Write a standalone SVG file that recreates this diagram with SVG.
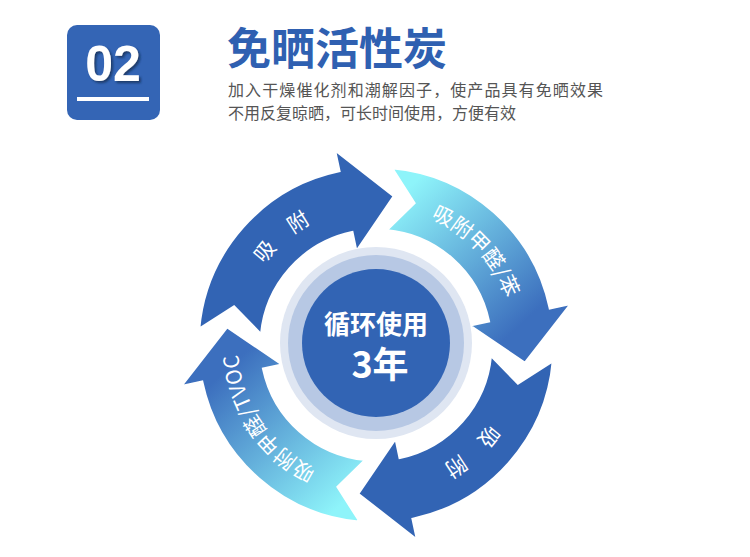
<svg xmlns="http://www.w3.org/2000/svg" xmlns:xlink="http://www.w3.org/1999/xlink" width="750" height="557" viewBox="0 0 750 557">
<style>
.cjk{font-family:"Noto Sans CJK SC","Liberation Sans",sans-serif}
.dark{fill:#3264b4;stroke:#fff;stroke-width:3}
.light{fill:url(#lg);stroke:#fff;stroke-width:3}
.rt{fill:#fff;font-size:21px}
</style>
<defs>
<linearGradient id="lg" gradientUnits="userSpaceOnUse" x1="230" y1="325" x2="360" y2="205">
<stop offset="0" stop-color="#8ef4fa"/><stop offset="1" stop-color="#3c6fbe"/>
</linearGradient>
<filter id="sh" x="-20%" y="-20%" width="140%" height="140%"><feDropShadow dx="2" dy="2" stdDeviation="1" flood-color="#14284d" flood-opacity="0.7"/></filter>
<path id="ar" d="M198.7,329.5 A178,178 0 0 1 339,170.9 L334.4,149.4 L394.3,196.1 L356.2,252.1 L352.1,232.5 A115,115 0 0 0 261.4,335 L234,307 Z"/>
<path id="circ" d="M514,345 A138,138 0 1 1 238,345 A138,138 0 1 1 514,345"/>
</defs>
<rect width="750" height="557" fill="#fff"/>
<g id="badge">
<rect x="67" y="25" width="93" height="95" rx="10" fill="#3465b5"/>
<text x="113" y="81" text-anchor="middle" font-family="Liberation Sans,sans-serif" font-weight="bold" font-size="50" fill="#fff" filter="url(#sh)">02</text>
<rect x="77" y="97" width="72" height="4" fill="#fff"/>
</g>
<g id="header" class="cjk">
<text x="227" y="65" font-size="44" font-weight="bold" fill="#2f60b1">免晒活性炭</text>
<text x="228" y="96" font-size="16" fill="#555" textLength="375">加入干燥催化剂和潮解因子，使产品具有免晒效果</text>
<text x="228" y="119" font-size="16" fill="#555">不用反复晾晒，可长时间使用，方便有效</text>
</g>
<g id="connectors">
<use href="#ar" class="dark"/>
<use href="#ar" class="light" transform="rotate(90 376 345)"/>
<use href="#ar" class="dark" transform="rotate(180 376 345)"/>
<use href="#ar" class="light" transform="rotate(270 376 345)"/>
</g>
<g id="ring-labels" class="cjk rt">
<text><textPath href="#circ" startOffset="63.6%" text-anchor="middle">吸　附</textPath></text>
<text><textPath href="#circ" startOffset="88%" text-anchor="middle">吸附甲醛/苯</textPath></text>
<text><textPath href="#circ" startOffset="13.3%" text-anchor="middle">吸　附</textPath></text>
<text><textPath href="#circ" startOffset="40.5%" text-anchor="middle">吸附甲醛/TVOC</textPath></text>
</g>
<g id="center">
<circle cx="376" cy="343" r="96" fill="#dfe6f2"/>
<circle cx="376" cy="343" r="88" fill="#b7c8e4"/>
<circle cx="376" cy="343" r="74" fill="#3264b4"/>
<text x="376" y="334" text-anchor="middle" class="cjk" font-size="26" font-weight="bold" fill="#fff">循环使用</text>
<text x="380" y="378" text-anchor="middle" class="cjk" font-size="36" font-weight="bold" fill="#fff">3年</text>
</g>
</svg>
